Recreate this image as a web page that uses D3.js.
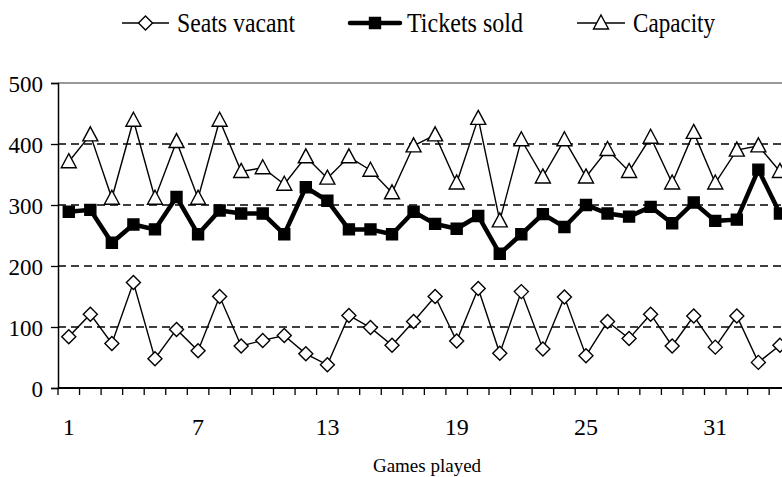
<!DOCTYPE html>
<html>
<head>
<meta charset="utf-8">
<script src="https://cdn.jsdelivr.net/npm/d3@7"></script>
<style>
	body { margin: 0; background: #fff; }
	svg { display: block; }
</style>
</head>
<body>
<div id="chart"></div>
<script>
// data
var games = d3.range(1, 35);
var seatsVacant = [84, 121, 73, 173, 48, 96, 61, 150, 69, 78, 86, 56, 38, 119, 99, 70, 109, 150, 77, 163,
	57, 158, 64, 149, 53, 109, 81, 121, 69, 118, 67, 118, 42, 70];
var ticketsSold = [289, 292, 238, 268, 260, 313, 252, 291, 286, 286, 252, 329, 307, 260, 260, 252, 289, 269, 261, 282,
	220, 252, 285, 264, 300, 286, 281, 297, 270, 304, 274, 276, 358, 286];
var capacity = [371, 415, 311, 439, 311, 404, 311, 439, 355, 361, 334, 379, 344, 379, 357, 320, 397, 415, 336, 442,
	274, 407, 346, 407, 346, 391, 355, 411, 336, 419, 336, 390, 397, 355];
var yTicks = [0, 100, 200, 300, 400, 500];
var xLabels = [1, 7, 13, 19, 25, 31];

var chartWidth = 782;
var chartHeight = 477;
var plotLeft = 58;
var plotTop = 83;
var plotBottom = 388;
var step = 21.55;
var serif = "Liberation Serif";

var svg = d3.select("#chart")
	.append("svg")
	.attr("width", chartWidth)
	.attr("height", chartHeight)
	.attr("font-family", serif);

// band scale runs a little past the right edge, as in the picture
var x = d3.scaleBand()
	.domain(games)
	.range([plotLeft, plotLeft + step * games.length])
	.padding(0);
var y = d3.scaleLinear()
	.domain([0, 500])
	.range([plotBottom, plotTop]);

function cx (d, i) { return x(games[i]) + x.bandwidth() / 2; }

// gridlines
svg.append("g")
	.selectAll("line")
	.data([100, 200, 300, 400])
	.enter()
	.append("line")
	.attr("x1", plotLeft).attr("x2", chartWidth)
	.attr("y1", function (d) { return y(d); })
	.attr("y2", function (d) { return y(d); })
	.attr("stroke", "#000")
	.attr("stroke-width", 1.3)
	.attr("stroke-dasharray", "8,5");

// plot top border
svg.append("line")
	.attr("x1", plotLeft).attr("x2", chartWidth)
	.attr("y1", y(500)).attr("y2", y(500))
	.attr("stroke", "#999")
	.attr("stroke-width", 2);

// y axis
var yAxis = svg.append("g")
	.attr("transform", "translate(" + plotLeft + ",0)")
	.call(d3.axisLeft(y).tickValues(yTicks).tickSize(7).tickFormat(d3.format("d")));
yAxis.attr("font-family", serif).attr("font-size", 23);
yAxis.select(".domain").attr("stroke", "#000").attr("stroke-width", 1.5);
yAxis.selectAll(".tick line").attr("stroke", "#000").attr("stroke-width", 1.3);
yAxis.selectAll("text")
	.attr("x", -15)
	.attr("dy", "0.36em")
	.attr("fill", "#000");

// x axis: ticks between categories
var xg = svg.append("g");
xg.append("line")
	.attr("x1", plotLeft).attr("x2", chartWidth)
	.attr("y1", plotBottom).attr("y2", plotBottom)
	.attr("stroke", "#000")
	.attr("stroke-width", 2);
xg.selectAll(".xt")
	.data(games)
	.enter()
	.append("line")
	.attr("class", "xt")
	.attr("x1", function (d) { return x(d); })
	.attr("x2", function (d) { return x(d); })
	.attr("y1", plotBottom).attr("y2", plotBottom + 7)
	.attr("stroke", "#000")
	.attr("stroke-width", 1.3);
xg.selectAll(".xl")
	.data(xLabels)
	.enter()
	.append("text")
	.attr("class", "xl")
	.attr("x", function (d) { return x(d) + x.bandwidth() / 2; })
	.attr("y", 435)
	.attr("text-anchor", "middle")
	.attr("font-size", 24)
	.text(function (d) { return d; });

svg.append("text")
	.attr("x", 427)
	.attr("y", 472)
	.attr("text-anchor", "middle")
	.attr("font-size", 19)
	.text("Games played");

// markers
var diamond = "M0,-7L7,0L0,7L-7,0Z";
var triangle = "M0,-8L7.5,6L-7.5,6Z";
var square = "M-5.5,-5.5H5.5V5.5H-5.5Z";

var series = [
	{ name: "Seats vacant", values: seatsVacant, sw: 1.4, marker: diamond, fill: "#fff" },
	{ name: "Tickets sold", values: ticketsSold, sw: 4.5, marker: square, fill: "#000" },
	{ name: "Capacity", values: capacity, sw: 1.4, marker: triangle, fill: "#fff" }
];

var line = d3.line()
	.x(cx)
	.y(function (d) { return y(d); });

series.forEach(function (s) {
	svg.append("path")
		.datum(s.values)
		.attr("d", line)
		.attr("fill", "none")
		.attr("stroke", "#000")
		.attr("stroke-width", s.sw)
		.attr("stroke-linejoin", "miter");

	svg.selectAll(null)
		.data(s.values)
		.enter()
		.append("path")
		.attr("d", s.marker)
		.attr("transform", function (d, i) { return "translate(" + cx(d, i) + "," + y(d) + ")"; })
		.attr("fill", s.fill)
		.attr("stroke", "#000")
		.attr("stroke-width", 1.4);
});

// legend
var legend = [
	{ s: series[0], x1: 122, x2: 169, tx: 177, tw: 118 },
	{ s: series[1], x1: 350, x2: 400, tx: 407, tw: 116 },
	{ s: series[2], x1: 577, x2: 625, tx: 633, tw: 82 }
];
legend.forEach(function (l) {
	var g = svg.append("g");
	g.append("line")
		.attr("x1", l.x1).attr("x2", l.x2)
		.attr("y1", 23).attr("y2", 23)
		.attr("stroke", "#000")
		.attr("stroke-width", l.s.sw)
		.attr("stroke-linecap", l.s.sw > 2 ? "round" : "butt");
	g.append("path")
		.attr("d", l.s.marker)
		.attr("transform", "translate(" + ((l.x1 + l.x2) / 2) + ",23)")
		.attr("fill", l.s.fill)
		.attr("stroke", "#000")
		.attr("stroke-width", 1.4);
	g.append("text")
		.attr("x", l.tx)
		.attr("y", 32)
		.attr("textLength", l.tw)
		.attr("lengthAdjust", "spacingAndGlyphs")
		.attr("font-size", 27)
		.text(l.s.name);
});
</script>
</body>
</html>
